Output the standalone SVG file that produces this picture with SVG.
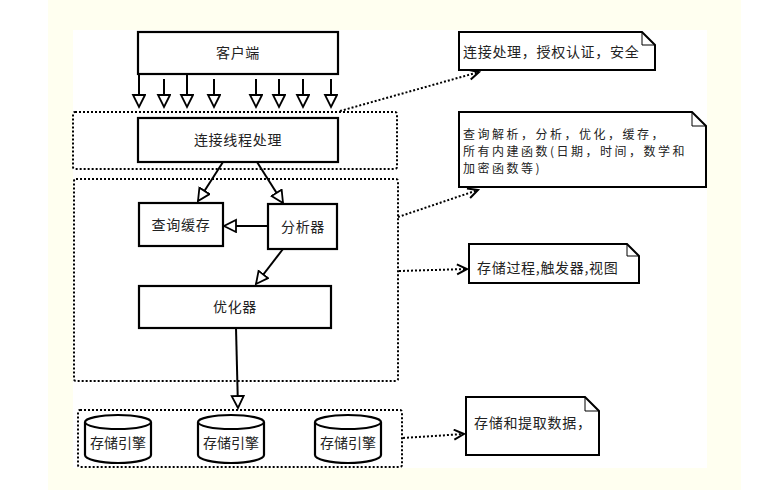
<svg xmlns="http://www.w3.org/2000/svg" width="767" height="495" viewBox="0 0 767 495">
<defs>
<marker id="tri" markerUnits="userSpaceOnUse" markerWidth="16" markerHeight="16" refX="13" refY="7" orient="auto">
<path d="M1,1 L13,7 L1,13 Z" fill="#fff" stroke="#000" stroke-width="1.8"/>
</marker>
<marker id="vee" markerUnits="userSpaceOnUse" markerWidth="14" markerHeight="14" refX="11" refY="6" orient="auto">
<path d="M1,1 L11,6 L1,11" fill="none" stroke="#000" stroke-width="2"/>
</marker>
<style>
.box{fill:#fff;stroke:#000;stroke-width:2.2}
.grp{fill:none;stroke:#000;stroke-width:2;stroke-dasharray:2 2}
.t{font-family:"Noto Sans CJK SC","Noto Sans",sans-serif;font-size:14px;fill:#222;letter-spacing:0.7px}
.s{font-size:12px;letter-spacing:2.5px}
.c{text-anchor:middle}
.ln{fill:none;stroke:#000;stroke-width:2;marker-end:url(#tri)}
.dl{fill:none;stroke:#000;stroke-width:2;stroke-dasharray:2 2;marker-end:url(#vee)}
.note{fill:#fff;stroke:#000;stroke-width:2}
.fold{fill:none;stroke:#000;stroke-width:1}
</style>
</defs>
<rect x="0" y="0" width="767" height="495" fill="#fff"/>
<rect x="48" y="0" width="693" height="490" fill="#fffff0"/>
<rect x="73" y="30" width="634" height="438" fill="#fff"/>

<g id="groups">
<rect id="g1" class="grp" x="73" y="112" width="324" height="57" rx="2"/>
<rect id="g2" class="grp" x="74" y="179" width="324" height="202" rx="2"/>
<rect id="g3" class="grp" x="78" y="410" width="324" height="57" rx="2"/>
</g>

<g id="connectors">
<line class="ln" x1="139" y1="74" x2="139" y2="107"/>
<line class="ln" x1="164" y1="79" x2="164" y2="107"/>
<line class="ln" x1="187" y1="74" x2="187" y2="107"/>
<line class="ln" x1="214" y1="79" x2="214" y2="107"/>
<line class="ln" x1="256" y1="79" x2="256" y2="107"/>
<line class="ln" x1="279" y1="79" x2="279" y2="107"/>
<line class="ln" x1="303" y1="79" x2="303" y2="107"/>
<line class="ln" x1="331" y1="79" x2="331" y2="107"/>
<line class="ln" x1="223" y1="162" x2="198" y2="201"/>
<line class="ln" x1="257" y1="162" x2="283" y2="203"/>
<line class="ln" x1="268" y1="226" x2="224" y2="226"/>
<line class="ln" x1="283" y1="249" x2="256" y2="284"/>
<line class="ln" x1="236" y1="328" x2="238" y2="408"/>
<line class="dl" x1="340" y1="111" x2="479" y2="72"/>
<line class="dl" x1="398" y1="217" x2="478" y2="190"/>
<line class="dl" x1="399" y1="271" x2="467" y2="269"/>
<line class="dl" x1="403" y1="438" x2="464" y2="434"/>
</g>

<g id="client">
<rect class="box" x="138" y="32" width="200" height="42"/>
<text class="t c" x="238" y="58">客户端</text>
</g>
<g id="conn">
<rect class="box" x="138" y="118" width="200" height="44"/>
<text class="t c" x="238" y="145">连接线程处理</text>
</g>
<g id="cache">
<rect class="box" x="139" y="203" width="84" height="43"/>
<text class="t c" x="181" y="230">查询缓存</text>
</g>
<g id="parser">
<rect class="box" x="268" y="204" width="69" height="45"/>
<text class="t c" x="303" y="232">分析器</text>
</g>
<g id="optimizer">
<rect class="box" x="139" y="286" width="192" height="42"/>
<text class="t c" x="235" y="312">优化器</text>
</g>

<g id="engine1">
<path class="box" d="M85,422 A33,7 0 0 1 151,422 L151,455 A33,8 0 0 1 85,455 Z"/>
<path class="fold" style="stroke-width:2" d="M85,422 A33,7 0 0 0 151,422"/>
<text class="t c" x="118" y="448" style="letter-spacing:0">存储引擎</text>
</g>
<g id="engine2">
<path class="box" d="M198,422 A33,7 0 0 1 264,422 L264,455 A33,8 0 0 1 198,455 Z"/>
<path class="fold" style="stroke-width:2" d="M198,422 A33,7 0 0 0 264,422"/>
<text class="t c" x="231" y="448" style="letter-spacing:0">存储引擎</text>
</g>
<g id="engine3">
<path class="box" d="M315,422 A33,7 0 0 1 381,422 L381,455 A33,8 0 0 1 315,455 Z"/>
<path class="fold" style="stroke-width:2" d="M315,422 A33,7 0 0 0 381,422"/>
<text class="t c" x="348" y="448" style="letter-spacing:0">存储引擎</text>
</g>

<g id="note1">
<path class="note" d="M459,32 L642,32 L655,45 L655,70 L459,70 Z"/>
<path class="fold" d="M642,32 L642,45 L655,45"/>
<text class="t" x="463" y="57">连接处理，授权认证，安全</text>
</g>
<g id="note2">
<path class="note" d="M459,112 L692,112 L706,126 L706,187 L459,187 Z"/>
<path class="fold" d="M692,112 L692,126 L706,126"/>
<text class="t s" x="463" y="139">查询解析，分析，优化，缓存，</text>
<text class="t s" x="463" y="156">所有内建函数(日期，时间，数学和</text>
<text class="t s" x="463" y="173">加密函数等)</text>
</g>
<g id="note3">
<path class="note" d="M469,244 L627,244 L639,256 L639,283 L469,283 Z"/>
<path class="fold" d="M627,244 L627,256 L639,256"/>
<text class="t" x="477" y="273">存储过程,触发器,视图</text>
</g>
<g id="note4">
<path class="note" d="M466,397 L585,397 L599,411 L599,455 L466,455 Z"/>
<path class="fold" d="M585,397 L585,411 L599,411"/>
<text class="t" x="474" y="428">存储和提取数据，</text>
</g>
</svg>
